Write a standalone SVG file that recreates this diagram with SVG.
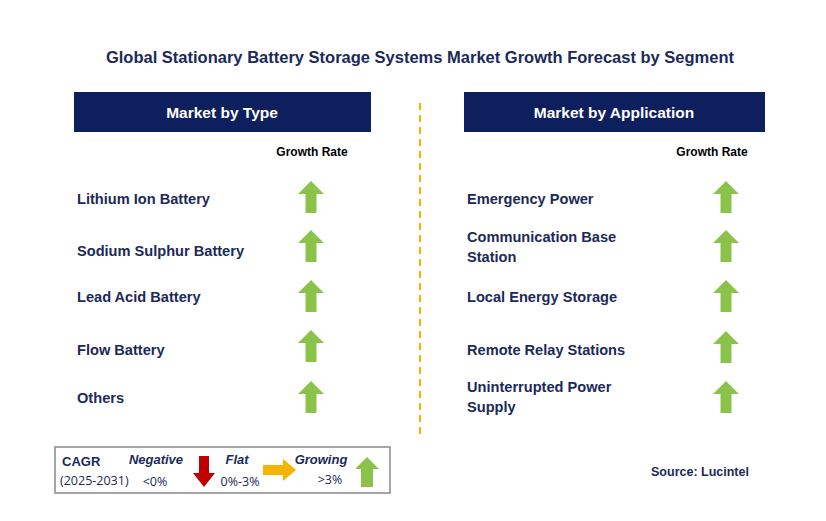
<svg xmlns="http://www.w3.org/2000/svg" width="826" height="521" viewBox="0 0 826 521">
<style>
text{font-family:"Liberation Sans",Arial,sans-serif;fill:#1a2a5a;font-weight:bold}
.t{font-size:14.6px}
.h{font-size:15.5px;fill:#fff;text-anchor:middle}
.g{font-size:12px;text-anchor:middle;fill:#000}
.l{font-size:13px}
.li{font-size:13px;font-style:italic}
.ln{font-size:12.5px;font-weight:normal;font-family:"Open Sans",sans-serif;fill:#1a2a5a}
</style>
<defs>
<path id="up" d="M0,-16 L13,-3 L5.5,-3 L5.5,16 L-5.5,16 L-5.5,-3 L-13,-3 Z" fill="#8bc34a"/>
</defs>
<rect width="826" height="521" fill="#fff"/>
<text x="420" y="63" text-anchor="middle" style="font-size:16.5px">Global Stationary Battery Storage Systems Market Growth Forecast by Segment</text>
<g id="connectors"><line x1="420" y1="103" x2="420" y2="437" stroke="#f5b400" stroke-width="2" stroke-dasharray="7,5"/></g>
<g id="left">
<rect x="74" y="92" width="297" height="40" fill="#0d1f5c"/>
<text class="h" x="222" y="118">Market by Type</text>
<text class="g" x="312" y="156">Growth Rate</text>
<text class="t" x="77" y="204">Lithium Ion Battery</text>
<text class="t" x="77" y="256">Sodium Sulphur Battery</text>
<text class="t" x="77" y="302">Lead Acid Battery</text>
<text class="t" x="77" y="355">Flow Battery</text>
<text class="t" x="77" y="403">Others</text>
<use href="#up" x="311" y="197"/><use href="#up" x="311" y="246"/><use href="#up" x="311" y="296"/><use href="#up" x="311" y="346"/><use href="#up" x="311" y="397"/>
</g>
<g id="right">
<rect x="464" y="92" width="301" height="40" fill="#0d1f5c"/>
<text class="h" x="614" y="118">Market by Application</text>
<text class="g" x="712" y="156">Growth Rate</text>
<text class="t" x="467" y="204">Emergency Power</text>
<text class="t" x="467" y="242">Communication Base</text>
<text class="t" x="467" y="262">Station</text>
<text class="t" x="467" y="302">Local Energy Storage</text>
<text class="t" x="467" y="355">Remote Relay Stations</text>
<text class="t" x="467" y="392">Uninterrupted Power</text>
<text class="t" x="467" y="412">Supply</text>
<use href="#up" x="726" y="197"/><use href="#up" x="726" y="246"/><use href="#up" x="726" y="296"/><use href="#up" x="726" y="347"/><use href="#up" x="726" y="397"/>
</g>
<g id="legend">
<rect x="55" y="447" width="335" height="46" fill="#fff" stroke="#888" stroke-width="1.5"/>
<text class="l" x="62" y="466">CAGR</text>
<text class="ln" x="60" y="485">(2025-2031)</text>
<text class="li" x="156" y="464" text-anchor="middle">Negative</text>
<text class="ln" x="155" y="486" text-anchor="middle">&lt;0%</text>
<path d="M199,456 L209,456 L209,473 L215,473 L204,487 L193,473 L199,473 Z" fill="#c00000"/>
<text class="li" x="237" y="464" text-anchor="middle">Flat</text>
<text class="ln" x="240" y="486" text-anchor="middle">0%-3%</text>
<path d="M263,465 L283,465 L283,459 L296,470 L283,481 L283,475 L263,475 Z" fill="#f5b400"/>
<text class="li" x="321" y="464" text-anchor="middle">Growing</text>
<text class="ln" x="330" y="484" text-anchor="middle">&gt;3%</text>
<path d="M367,457 L379,469 L373,469 L373,487 L361,487 L361,469 L355,469 Z" fill="#8bc34a"/>
</g>
<text x="700" y="476" text-anchor="middle" style="font-size:12.5px">Source: Lucintel</text>
</svg>
